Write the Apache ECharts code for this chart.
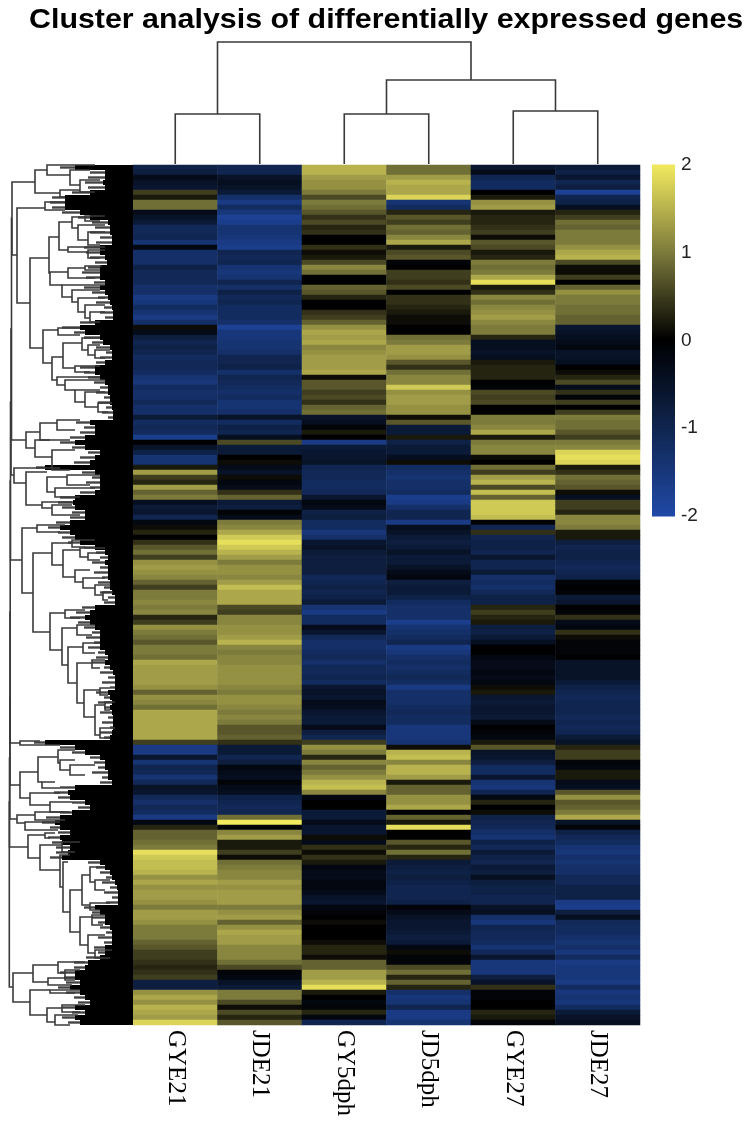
<!DOCTYPE html>
<html>
<head>
    <meta charset="utf-8">
    <script src="https://cdn.jsdelivr.net/npm/echarts@6/dist/echarts.min.js"></script>
</head>
<body style="margin: 0; background: #fff">
    <div id="container" style="width: 750px; height: 1126px"></div>
    <script>
        const titleText = 'Cluster analysis of differentially expressed genes';
        const samples = ['GYE21', 'JDE21', 'GY5dph', 'JD5dph', 'GYE27', 'JDE27'];
        const scaleTicks = [-2, -1, 0, 1, 2];

        // one value per row band, top to bottom
        const gye21 = [
            -0.9,-0.8,-0.3,-0.5,-0.6,0.5,0.2,0.9,0.9,-0.3,
            -0.5,-0.7,-1.1,-1.1,-1.0,-1.4,-0.2,-1.3,-1.3,-1.3,
            -0.9,-1.1,-1.1,-1.1,-1.3,-1.3,-1.6,-1.5,-1.2,-1.4,
            -1.6,-1.3,0.1,-0.3,-0.8,-1.0,-0.9,-1.0,-1.2,-1.1,
            -1.1,-1.2,-1.4,-1.5,-1.2,-1.3,-1.3,-1.1,-1.3,-1.3,
            -0.7,-1.2,-1.1,-1.2,-1.7,0.0,-0.5,-0.9,-1.4,-1.4,
            0.2,1.3,0.5,0.3,1.3,0.8,1.0,-0.4,-0.7,-0.6,
            -1.0,-0.2,0.1,0.3,0.0,0.4,0.7,0.9,0.5,1.2,
            1.3,1.2,1.1,0.8,0.5,1.0,1.0,1.1,1.0,1.1,
            0.3,0.5,1.2,1.0,0.9,0.7,1.0,1.0,0.9,1.4,
            1.3,1.3,1.3,1.3,1.2,0.8,1.2,1.1,0.9,1.4,
            1.4,1.4,1.4,1.4,1.4,0.5,-1.6,-1.6,-0.6,-1.4,
            -1.0,-1.1,-1.4,-1.1,-0.5,-0.6,-1.1,-1.3,-1.1,-1.2,
            -1.6,-0.2,0.3,0.8,0.8,0.9,1.0,1.9,1.7,1.6,
            1.6,1.5,1.2,1.4,1.2,1.3,1.3,1.2,1.0,1.3,
            1.3,1.2,1.0,1.0,1.0,0.8,0.7,0.5,0.5,0.4,
            0.3,0.4,0.5,-0.8,-0.8,1.2,1.4,1.2,1.5,1.4,
            1.3,1.8
        ];
        const jde21 = [
            -1.0,-1.0,-0.5,-0.4,-0.5,-0.7,-1.3,-1.6,-1.2,-1.5,
            -1.8,-1.7,-1.4,-1.4,-1.5,-1.6,-1.7,-1.0,-1.1,-1.0,
            -1.4,-1.5,-1.4,-1.0,-1.3,-0.9,-1.1,-1.0,-1.2,-1.2,
            -1.2,-1.3,-1.8,-1.5,-1.5,-1.4,-1.4,-1.3,-1.0,-1.0,
            -0.9,-1.3,-1.0,-1.1,-1.2,-1.3,-1.2,-1.4,-1.4,-1.3,
            -0.5,-1.2,-0.9,-1.0,-0.4,0.6,-0.7,-0.7,0.0,0.1,
            -0.3,-0.5,0.1,-0.2,-0.3,0.4,0.8,-0.7,-0.8,-0.1,
            -0.3,1.0,1.1,1.4,1.7,1.9,1.7,1.5,1.3,1.0,
            1.2,1.2,1.1,1.3,1.6,1.4,1.4,1.4,0.6,0.5,
            1.1,1.1,1.2,1.2,1.3,1.5,1.1,1.0,1.1,1.1,
            1.2,1.2,1.2,1.2,1.1,1.0,1.2,1.2,1.1,1.0,
            1.1,1.0,0.7,0.7,0.8,0.4,-0.7,-0.7,-1.0,-0.8,
            -0.2,-0.3,-0.4,-0.1,-0.3,-0.4,-0.9,-1.0,-1.1,-1.0,
            0.9,2.0,-0.1,1.1,1.3,0.2,0.2,0.5,0.1,0.9,
            1.0,1.1,1.1,1.3,1.2,1.3,1.3,1.3,1.0,1.2,
            1.3,0.8,1.2,1.4,1.3,1.3,1.1,1.1,1.1,0.9,
            0.6,-0.1,-0.2,-0.5,-0.7,1.0,1.0,0.6,0.1,0.6,
            0.3,0.7
        ];
        const gy5dph = [
            1.5,1.5,1.3,1.2,1.2,1.0,0.6,1.0,0.9,0.7,
            0.4,0.6,0.3,0.4,0.0,0.0,0.4,0.1,0.2,0.6,
            1.1,0.9,0.0,0.0,0.8,0.7,0.3,0.0,0.0,0.4,
            0.5,0.8,1.2,1.4,1.3,1.4,1.1,1.2,1.3,1.3,
            1.3,1.4,0.1,0.7,0.7,0.5,0.6,0.4,0.8,0.9,
            -0.5,-0.4,-0.1,0.2,0.0,-1.6,-0.7,-0.6,-0.6,-0.5,
            -1.0,-1.1,-1.1,-1.2,-1.2,-1.1,-0.6,-0.2,-0.3,-0.9,
            -0.8,-1.2,-1.2,-1.5,-1.3,-0.6,-0.5,-0.7,-0.8,-0.8,
            -0.8,-0.8,-1.1,-1.0,-0.9,-1.0,-0.9,-0.7,-1.4,-1.6,
            -1.2,-1.2,-0.3,-0.6,-1.1,-1.3,-1.3,-1.2,-1.1,-1.3,
            -1.1,-1.1,-1.0,-1.2,-0.6,-0.5,-0.6,-0.3,-0.4,-0.6,
            -0.7,-0.7,-0.3,-0.8,-1.0,0.5,1.2,1.0,0.3,1.1,
            0.8,1.0,1.2,1.5,1.6,1.1,-0.2,0.0,0.0,-0.7,
            -0.7,-0.3,-0.6,-0.6,0.1,-0.3,0.4,0.1,0.4,0.2,
            -0.2,-0.3,-0.3,-0.2,-0.2,-0.3,-0.5,-0.6,-0.2,-0.1,
            0.0,0.1,0.0,0.0,0.0,0.1,0.3,0.3,0.1,0.8,
            0.8,1.3,1.3,1.5,1.9,0.2,0.0,-0.2,-0.1,0.3,
            -0.2,-1.0
        ];
        const jd5dph = [
            0.9,0.9,1.3,1.5,1.4,1.4,1.8,-1.4,-1.2,0.3,
            0.7,0.5,0.9,0.8,1.1,1.4,0.2,0.6,0.7,-0.1,
            0.0,0.5,0.5,0.4,0.6,0.0,0.4,0.4,0.3,0.2,
            0.1,0.1,0.0,0.0,0.9,1.0,1.3,1.3,1.2,0.7,
            0.4,0.9,1.1,1.1,1.7,1.2,1.3,1.3,1.2,1.2,
            0.1,0.7,-0.7,-0.7,0.2,-0.9,-0.7,-0.7,-0.4,0.1,
            -1.2,-1.3,-1.4,-1.3,-1.3,-1.2,-1.7,-1.6,-1.3,-1.0,
            -1.0,-1.6,-0.4,-0.5,-0.7,-0.8,-0.7,-0.5,-0.7,-0.7,
            -0.5,-0.3,-0.2,-0.8,-0.7,-0.7,-0.9,-1.2,-1.3,-1.3,
            -1.3,-1.7,-1.4,-1.3,-1.2,-1.0,-1.6,-1.5,-1.3,-1.2,
            -1.3,-1.2,-1.1,-1.2,-1.6,-1.3,-1.3,-1.3,-1.2,-1.1,
            -1.2,-1.2,-1.5,-1.5,-1.5,-1.4,0.1,1.5,1.6,1.1,
            1.5,1.5,1.3,0.2,0.8,0.8,1.2,1.2,1.4,0.0,
            0.8,0.2,1.9,0.0,0.0,0.7,0.3,0.9,0.3,-0.7,
            -0.8,-0.9,-0.8,-0.9,-1.0,-1.0,-1.0,-0.9,-0.1,-0.3,
            -0.5,-0.6,-0.6,-0.7,-0.8,-0.7,-0.2,0.1,-0.1,-0.1,
            0.6,0.9,0.3,0.8,0.3,-1.3,-1.5,-1.4,-1.0,-1.6,
            -1.6,-1.4
        ];
        const gye27 = [
            -0.6,-0.3,-1.0,-1.2,-1.2,0.0,0.2,1.2,1.3,0.2,
            0.3,0.3,0.4,0.5,0.1,0.7,0.6,0.2,0.3,1.0,
            0.9,1.0,1.4,1.9,0.2,0.4,1.1,0.9,1.1,1.2,
            1.3,1.1,1.0,1.0,0.3,-0.4,-0.4,-0.5,-0.4,0.2,
            0.3,0.3,0.3,0.0,-0.1,0.6,0.5,0.6,0.0,0.0,
            1.0,1.0,1.1,1.4,0.2,1.0,1.1,1.1,0.1,0.0,
            0.9,0.5,1.3,1.5,0.6,1.6,0.8,1.7,1.7,1.7,
            1.6,-0.1,-1.0,0.4,-1.0,-0.9,-0.9,-1.0,-0.6,-1.0,
            -1.0,-0.7,-1.3,-1.2,-1.3,-1.1,-0.9,-0.9,0.3,0.5,
            0.3,0.2,-0.8,-0.9,-0.7,-0.4,0.0,0.0,-0.2,-0.3,
            -0.3,-0.2,-0.3,-0.2,0.1,0.2,-0.6,-0.7,-0.6,-0.6,
            -0.7,-0.3,0.0,-0.1,-0.2,0.2,0.7,-0.5,-0.6,-0.8,
            -1.2,-1.2,-0.6,-1.4,-1.5,-1.0,-0.2,0.3,0.0,0.1,
            -0.9,-1.0,-1.1,-1.3,-1.4,-0.9,-1.1,-0.7,-0.9,-1.0,
            -0.7,-0.8,-0.4,-0.8,-0.9,-0.9,-1.0,-1.0,-0.5,-0.4,
            -1.3,-1.5,-1.0,-1.1,-1.1,-1.2,-1.4,-1.1,-0.6,-1.5,
            -1.5,-1.5,-0.8,-0.5,0.4,-0.1,-0.1,0.0,0.0,0.3,
            0.2,-0.1
        ];
        const jde27 = [
            -0.7,-0.9,-0.6,-1.0,-0.8,-1.8,-1.0,-0.9,-0.4,0.3,
            0.5,0.9,0.8,1.0,1.0,1.0,1.2,1.4,1.5,0.6,
            0.1,0.1,0.5,0.0,0.8,1.2,1.0,1.0,0.9,0.9,
            0.8,0.8,-0.6,-0.5,-0.4,-0.3,-0.2,-0.5,-0.5,-0.4,
            0.0,0.1,0.3,0.6,-0.3,0.4,-0.1,0.5,0.0,0.5,
            1.0,0.9,0.9,0.7,0.5,1.0,1.1,1.8,1.9,1.8,
            0.2,0.4,0.9,0.8,0.7,0.1,-0.4,0.5,0.5,0.3,
            1.1,1.1,1.0,0.2,0.2,-0.8,-1.0,-0.9,-0.9,-1.0,
            -1.1,-1.0,-0.9,-0.1,0.0,-0.1,-0.7,-0.6,0.0,-0.1,
            0.4,-0.3,-0.2,0.4,0.1,-0.1,-0.1,-0.1,0.0,-0.5,
            -0.5,-0.5,-0.5,-0.7,-0.9,-1.0,-1.1,-1.0,-1.0,-1.0,
            -1.1,-1.0,-1.1,-1.0,-0.7,-0.5,0.3,0.5,0.5,-0.1,
            -0.2,0.2,0.2,-0.3,-0.4,0.7,1.2,0.7,0.8,1.0,
            1.4,-0.5,-0.1,-0.9,-1.1,-1.2,-1.4,-1.5,-1.3,-1.4,
            -1.3,-1.3,-1.1,-1.1,-0.9,-0.9,-0.9,-1.6,-1.7,-0.8,
            -0.4,-1.1,-1.2,-1.2,-1.3,-1.4,-1.3,-1.5,-1.2,-1.6,
            -1.5,-1.5,-1.5,-1.6,-1.2,-1.5,-1.4,-1.5,-1.2,-0.7,
            -0.5,-0.4
        ];
        const columns = [gye21, jde21, gy5dph, jd5dph, gye27, jde27];

        // sample tree: [height, left position, right position, left child height, right child height]
        const sampleMerges = [
            [50, 0.5, 1.5, 0, 0],
            [50, 2.5, 3.5, 0, 0],
            [53, 4.5, 5.5, 0, 0],
            [84, 3, 5, 50, 53],
            [122, 1, 4, 50, 84]
        ];

        // depth from the root at which each row's leaf bundle turns solid black
        const leafDepth = [
            75,105,105,103,105,90,65,65,65,80,
            90,108,110,110,112,112,100,100,105,107,
            100,100,100,105,100,105,108,110,112,113,
            113,95,80,85,100,103,110,112,112,105,
            95,95,100,105,108,108,110,110,112,113,
            113,90,95,95,85,75,85,100,95,90,
            45,95,100,100,100,95,75,73,75,85,
            85,70,60,70,75,80,95,105,108,105,
            108,108,108,110,110,112,115,115,95,90,
            85,90,95,100,100,100,100,105,108,105,
            110,113,115,115,115,108,110,112,110,112,
            113,113,113,112,110,45,75,85,100,105,
            105,108,108,112,75,68,70,85,90,72,
            60,55,60,70,60,62,70,68,62,100,
            105,110,112,115,117,118,118,118,95,100,
            105,105,110,112,112,112,105,105,100,88,
            85,75,75,80,70,80,85,90,75,85,
            75,80
        ];
        // depth where the thin grey wisps in front of the bundle begin
        const wispDepth = [
            60,90,88,85,88,72,52,50,52,62,
            78,92,95,90,100,96,84,86,90,95,
            88,82,86,94,84,92,98,96,104,100,
            105,80,62,74,84,92,96,106,100,96,
            80,84,88,94,100,96,104,98,106,102,
            108,76,84,80,70,60,72,88,80,74,
            36,82,92,86,90,80,60,58,62,72,
            70,56,48,58,62,68,84,96,100,92,
            100,94,102,98,104,100,108,104,82,76,
            70,78,84,92,86,94,88,98,96,92,
            104,100,108,102,110,96,104,98,104,100,
            108,102,110,100,104,34,60,72,90,94,
            98,92,102,100,60,54,58,72,78,60,
            46,42,50,58,48,52,56,56,50,88,
            96,100,106,102,110,104,112,106,84,92,
            92,98,100,106,98,104,94,98,86,74,
            74,60,64,66,58,66,74,78,62,72,
            62,68
        ];

        // gene tree: [depth, top row, bottom row, top child depth, bottom child depth]
        const trunkMerges = [
            [11.5,10.6,55,12,26],[11,32.8,62,11.5,14],[10.5,47.4,79,11,22],[10.2,63.2,115.6,10.5,20],
            [10,89.4,124,10.2,20],[9.8,106.6,130.8,10,17],[9.5,118.6,136.4,9.8,28],[9.3,127.4,164.4,9.5,13]
        ];
        const upperMerges = [
            [12,3.4,18,35,17],[35,1,5.6,47,60],[47,0,2,95,70],[70,1,4,90,80],[80,3,5.4,100,95],[60,5,6.4,80,65],
            [17,8.6,27.6,45,30],[45,7.4,9,65,65],[30,18.6,36.6,49,43],[49,14.4,21.6,59,50],[59,11.4,17,72,68],
            [72,10.4,12.6,85,78],[85,10.2,11.2,105,100],[78,12,15,105,88],[88,13.4,16,105,100],[68,16.4,17.4,105,88],
            [88,17,18.6,105,100],[50,21.4,24,68,62],[68,20.6,22.6,85,95],[85,20.2,21,102,100],[62,24,26.4,105,72],
            [72,25,27.4,100,78],[78,26.6,29.4,105,85],[85,28,30.6,105,90],[90,29.4,31.4,105,100],[43,33,39.6,58,52],
            [58,32.6,34,80,80],[52,38.4,43,63,57],[63,35.6,40.6,82,75],[82,34.6,37,100,88],[88,36,38,100,95],
            [95,37,38.6,110,105],[75,40.2,41.4,100,90],[57,42.4,44,100,65],[65,43,45,105,75],[75,45,47.4,100,85],
            [85,45.4,48.4,105,98],[98,47.6,49.4,112,108]
        ];
        const middleMerges = [
            [26,53.4,56.6,40,35],[40,51.6,55,57,50],[57,51,53,80,75],[35,55,58.4,70,52],[52,57,61,75,70],
            [14,60.6,63.6,60,26],[26,61.4,68,47,42],[47,62.4,65.4,67,55],[67,62,64,100,90],[55,64.6,66.4,95,80],
            [42,67.4,68.6,72,52],[52,68,70,72,80],[22,72.6,85.6,37,33],[37,72,73.4,65,60],[33,77.6,93.4,52,50],
            [52,75.6,80,72,63],[72,75,76.4,95,85],[63,77,82.4,80,75],[80,76.6,78.4,105,88],[88,77.6,79,105,100],
            [75,81,83.4,90,83],[83,82.6,84.6,105,95],[95,84,86,110,103],[103,85.4,87,113,108],[50,89.6,97,65,62],
            [65,89,90.6,85,80],[62,92.6,100,77,68],[77,92,94,95,92],[68,96.4,103.6,83,77],[83,95.6,97.6,100,95],
            [77,99.6,107.6,92,84],[92,99,100.6,105,100],[84,105,110.4,100,95],[100,104.6,106,110,108],
            [95,108,114,105,100],[105,107.4,109,115,110],[100,112.6,114.6,115,110]
        ];
        const lowerMerges = [
            [20,115.2,116,40,60],[20,121.4,126.6,38,30],[38,118.4,123.4,58,42],[58,117,119.6,75,60],[60,119,121,75,70],
            [70,120,122,95,85],[42,123.4,124.6,55,60],[30,125.6,128,60,50],[50,127.4,129.4,72,70],[17,130,131.6,35,25],
            [35,129.4,131,65,65],[25,131.4,133,60,58],[28,134,138.6,45,40],[45,133.6,134.6,55,50],[40,136,141,62,60],
            [62,135.4,137.4,80,75],[60,138,144.4,70,63],[63,139.4,149.4,68,70],[70,145,153.4,82,80],[82,142,148,90,90],
            [90,140.4,143.4,105,95],[95,143,145,110,105],[90,147.6,149,110,100],[80,150.4,156,92,88],[92,150,152,105,103],
            [88,154,157.6,105,95],[95,157,158.6,112,110],[13,161.6,167.4,33,30],[33,160,163.4,58,48],[58,159.4,161.6,85,65],
            [65,161,163,80,75],[48,162.6,164,75,72],[30,165,170,50,47],[50,165,165.6,80,75],[47,168.6,171.4,62,55],
            [62,168,169.4,85,80],[55,170,172,78,70]
        ];

        const rowIds = gye21.map((v, i) => i);
        const cells = [];
        columns.forEach((col, c) => col.forEach((v, r) => cells.push([c, r, v])));
        // colour key levels, one thin rect each
        const keyStep = 0.025;
        const keyLevels = [];
        for (let i = 0; i < 160; i++) {
            const level = scaleTicks[0] + i * keyStep;
            keyLevels.push([0, level, level]);
        }
        const lineStyle = { stroke: '#3a3a3a', lineWidth: 1.6, fill: null };

        const chart = echarts.init(document.getElementById('container'));
        chart.setOption({
            animation: false,
            graphic: [{
                type: 'text', x: 29, y: 20, scaleX: 1.085, silent: true,
                style: {
                    text: titleText, fill: '#000', verticalAlign: 'middle',
                    fontFamily: 'Liberation Sans', fontWeight: 'bold', fontSize: 28
                }
            }],
            grid: [
                { left: 133, top: 165, width: 507, height: 860 },
                { left: 133, top: 42, width: 507, height: 122 },
                { left: 0, top: 165, width: 133, height: 860 },
                { left: 652, top: 165, width: 23, height: 351 }
            ],
            xAxis: [
                {
                    type: 'category', gridIndex: 0, data: samples, position: 'bottom',
                    axisLine: { show: false }, axisTick: { show: false },
                    axisLabel: { rotate: -90, margin: 5, color: '#000', fontFamily: 'Liberation Serif', fontSize: 25 }
                },
                { type: 'value', gridIndex: 1, min: 0, max: 6, show: false },
                { type: 'value', gridIndex: 2, min: 0, max: 133, show: false },
                { type: 'value', gridIndex: 3, min: 0, max: 1, show: false }
            ],
            yAxis: [
                { type: 'category', gridIndex: 0, data: rowIds, inverse: true, show: false },
                { type: 'value', gridIndex: 1, min: 0, max: 122, show: false },
                { type: 'value', gridIndex: 2, min: 0, max: 172, inverse: true, show: false },
                {
                    type: 'value', gridIndex: 3, min: scaleTicks[0], max: scaleTicks[4], interval: 1, position: 'right',
                    axisLine: { show: false }, axisTick: { show: false }, splitLine: { show: false },
                    axisLabel: { margin: 6, color: '#222', fontFamily: 'Liberation Sans', fontSize: 19 }
                }
            ],
            visualMap: {
                type: 'continuous', show: false, seriesIndex: [0, 4], dimension: 2, min: -2, max: 2,
                inRange: { color: ['#2049a6', '#10254f', '#000000', '#7d7b3c', '#f2ea5f'] }
            },
            series: [
                {
                    type: 'heatmap', xAxisIndex: 0, yAxisIndex: 0, data: cells, progressive: 0, silent: true,
                    itemStyle: { borderWidth: 0 }
                },
                {
                    type: 'custom', xAxisIndex: 1, yAxisIndex: 1, data: sampleMerges, silent: true, clip: false,
                    encode: { x: [1, 2], y: [0] },
                    renderItem: function (params, api) {
                        const h = api.value(0), a = api.value(1), b = api.value(2);
                        const pts = [[a, api.value(3)], [a, h], [b, h], [b, api.value(4)]].map(p => api.coord(p));
                        return { type: 'polyline', shape: { points: pts }, style: lineStyle };
                    }
                },
                {
                    type: 'custom', xAxisIndex: 2, yAxisIndex: 2, silent: true,
                    data: leafDepth.map((d, i) => [d, i, wispDepth[i]]),
                    encode: { x: [0, 2], y: [1] },
                    renderItem: function (params, api) {
                        const row = api.value(1);
                        const start = api.coord([api.value(0), row]);
                        const end = api.coord([133, row + 1]);
                        const wisp = api.coord([api.value(2), row + 0.5]);
                        return {
                            type: 'group',
                            children: [
                                {
                                    type: 'line',
                                    shape: { x1: wisp[0], y1: wisp[1], x2: start[0], y2: wisp[1] },
                                    style: { stroke: '#444', lineWidth: 2.4 }
                                },
                                {
                                    type: 'rect',
                                    shape: { x: start[0], y: start[1], width: end[0] - start[0], height: end[1] - start[1] },
                                    style: { fill: '#000' }
                                }
                            ]
                        };
                    }
                },
                {
                    type: 'custom', xAxisIndex: 2, yAxisIndex: 2, silent: true, clip: false,
                    data: trunkMerges.concat(upperMerges, middleMerges, lowerMerges),
                    encode: { x: [0], y: [1, 2] },
                    renderItem: function (params, api) {
                        const d = api.value(0), t = api.value(1), b = api.value(2);
                        const pts = [[api.value(3), t], [d, t], [d, b], [api.value(4), b]].map(p => api.coord(p));
                        return { type: 'polyline', shape: { points: pts }, style: lineStyle };
                    }
                },
                {
                    type: 'custom', xAxisIndex: 3, yAxisIndex: 3, data: keyLevels, silent: true, clip: false,
                    encode: { x: [0], y: [1] },
                    renderItem: function (params, api) {
                        const level = api.value(1);
                        const low = api.coord([0, level]);
                        const high = api.coord([1, level + keyStep]);
                        return {
                            type: 'rect',
                            shape: { x: low[0], y: high[1] - 0.5, width: high[0] - low[0], height: low[1] - high[1] + 1 },
                            style: { fill: api.visual('color') }
                        };
                    }
                }
            ]
        });
    </script>
</body>
</html>
